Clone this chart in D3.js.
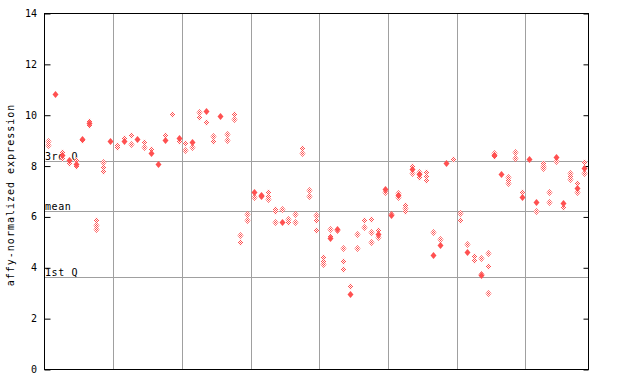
<!DOCTYPE html>
<html><head><meta charset="utf-8">
<script src="https://cdn.jsdelivr.net/npm/d3@7"></script>
<style>body{margin:0;background:#fff}svg{display:block}text{font-family:"DejaVu Sans Mono",monospace;font-size:10px}</style>
</head><body>
<svg id="c" width="640" height="384"></svg>
<script>
const yTicks = [0, 2, 4, 6, 8, 10, 12, 14];
const refLabels = ["3rd Q", "mean", "1st Q"];
const refValues = [8.19, 6.21, 3.61];
const groupStarts = [10, 20, 30, 40, 50, 60, 70];
const yLabel = "affy-normalized expression";
// per-sample values, hatched markers
const hatched = [
 [8.95,8.8],[],[8.55,8.3],[8.1],[8.2,8.0],[9.0],[9.75,9.6],[5.85,5.65,5.5],[8.15,7.95,7.8],[],
 [8.8,8.72],[9.1],[9.2,8.84],[],[8.93,8.75],[8.65],[],[9.19],[10.02],[8.97],
 [8.88,8.6],[8.75],[10.1,9.9],[9.7],[9.15,8.95],[],[9.23,9.0],[10.03,9.85],[5.26,4.98],[6.1,5.85],
 [6.75],[],[6.95,6.82,6.7],[6.3,6.2,5.8],[6.28],[5.9,5.8],[6.08,5.77],[8.68,8.5],[7.03,6.79],[6.04,5.85,5.45],
 [4.39,4.25,4.12],[5.52,5.25],[5.45],[4.75,4.23,3.92],[3.25],[5.3,4.75],[5.86,5.6],[5.9,5.4,5.0],[5.45,5.2],[6.95],
 [6.1],[6.93,6.75],[6.45,6.33,6.2],[7.98,7.7],[7.75,7.55],[7.73,7.6,7.43],[5.37],[5.1],[],[8.25],
 [6.12,5.86],[4.9],[4.44,4.29],[4.35,3.75],[4.55,4.05,2.98],[8.48,8.36],[],[7.56,7.45,7.3],[8.52,8.28],[6.95],
 [],[6.21],[8.1,8.0,7.9],[6.98,6.55],[8.18],[6.38],[7.72,7.6,7.47],[7.33,6.95],[8.14,7.7]
];
// per-sample values, solid markers
const solid = [
 [],[10.8],[8.4],[8.2],[8.08],[9.06],[9.69],[],[],[8.97],
 [],[8.97],[],[9.06],[],[8.5],[8.05],[9.0],[],[9.1],
 [],[8.94],[],[10.14],[],[9.94],[],[],[],[],
 [6.96],[6.85,6.8],[],[],[5.8],[],[],[],[],[],
 [],[5.14],[5.5],[],[2.95],[],[],[],[5.3],[7.08],
 [6.05],[6.85],[],[7.88],[7.65],[],[4.5],[4.88],[8.11],[],
 [],[4.61],[],[3.68],[],[8.42],[7.67],[],[],[6.78],
 [8.26],[6.58],[],[],[8.35],[6.54],[],[7.1],[7.9]
];

const svg = d3.select("#c");
const L = 44, R = 588, T = 13, B = 369;
const x = d3.scaleLinear().domain([-0.6, 78.62]).range([L, R]);
const y = d3.scaleLinear().domain([0, 14]).range([B, T]);
const red = "#ff5050";

const defs = svg.append("defs");
const pat = defs.append("pattern").attr("id", "hatch").attr("patternUnits", "userSpaceOnUse")
  .attr("width", 2).attr("height", 2);
pat.append("rect").attr("width", 2).attr("height", 2).attr("fill", "#fff");
pat.append("rect").attr("x", 0).attr("y", 0).attr("width", 1).attr("height", 1).attr("fill", red);
pat.append("rect").attr("x", 1).attr("y", 1).attr("width", 1).attr("height", 1).attr("fill", red);

// grid lines
svg.append("g").selectAll("line").data(groupStarts).join("line")
  .attr("x1", d => Math.round(x(d - 0.5)) + 0.5).attr("x2", d => Math.round(x(d - 0.5)) + 0.5)
  .attr("y1", T).attr("y2", B).attr("stroke", "#a0a0a0").attr("stroke-width", 1);
svg.append("g").selectAll("line").data(refValues).join("line")
  .attr("x1", L).attr("x2", R)
  .attr("y1", d => Math.round(y(d)) + 0.5).attr("y2", d => Math.round(y(d)) + 0.5)
  .attr("stroke", "#a0a0a0").attr("stroke-width", 1);

// frame
svg.append("rect").attr("x", L + 0.5).attr("y", T + 0.5).attr("width", R - L).attr("height", B - T)
  .attr("fill", "none").attr("stroke", "#000").attr("stroke-width", 1);

// left axis (inward ticks)
const ly = svg.append("g").attr("transform", `translate(${L + 0.5},0.5)`)
  .call(d3.axisRight(y).tickValues(yTicks).tickSize(6).tickFormat(""));
ly.select(".domain").remove();
ly.selectAll("line").attr("stroke", "#000");
svg.append("g").selectAll("text").data(yTicks).join("text")
  .attr("x", 37).attr("y", d => y(d) + 4).attr("text-anchor", "end").attr("fill", "#000").text(d => d);
// right axis (inward ticks)
const ry = svg.append("g").attr("transform", `translate(${R + 0.5},0.5)`)
  .call(d3.axisLeft(y).tickValues(yTicks).tickSize(5).tickFormat(""));
ry.select(".domain").remove();
ry.selectAll("line").attr("stroke", "#000");

// reference labels
svg.append("g").selectAll("text").data(refValues).join("text")
  .attr("x", L + 1).attr("y", d => y(d) - 1).attr("fill", "#000").attr("letter-spacing", "0.6")
  .text((d, i) => refLabels[i]);

// y label
svg.append("text").attr("transform", `translate(14,${(T + B) / 2 + 4}) rotate(-90)`)
  .attr("text-anchor", "middle").attr("letter-spacing", "1").attr("fill", "#000").text(yLabel);

// markers
const diamond = (cx, cy) => `M${cx},${cy - 3.5}L${cx + 3},${cy}L${cx},${cy + 3.5}L${cx - 3},${cy}Z`;
const hPts = hatched.flatMap((vals, i) => vals.map(v => ({i, v})));
const sPts = solid.flatMap((vals, i) => vals.map(v => ({i, v})));
svg.append("g").selectAll("path").data(hPts).join("path")
  .attr("d", d => diamond(Math.round(x(d.i)) + 0.5, Math.round(y(d.v)) + 0.5))
  .attr("fill", "url(#hatch)");
svg.append("g").selectAll("path").data(sPts).join("path")
  .attr("d", d => diamond(Math.round(x(d.i)) + 0.5, Math.round(y(d.v)) + 0.5))
  .attr("fill", red);
</script>
</body></html>
